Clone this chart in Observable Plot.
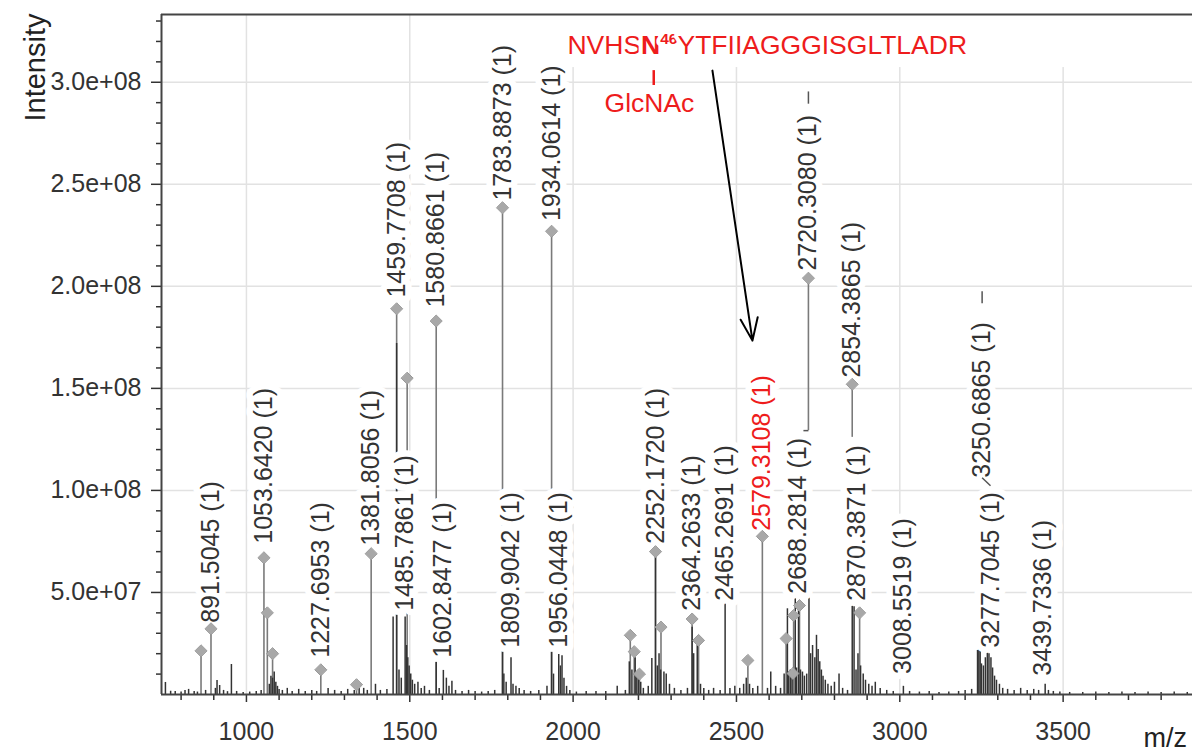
<!DOCTYPE html>
<html><head><meta charset="utf-8">
<script src="https://cdn.jsdelivr.net/npm/d3@7"></script>
<script src="https://cdn.jsdelivr.net/npm/@observablehq/plot@0.6"></script>
<style>
html,body{margin:0;padding:0;background:#fff;overflow:hidden}
#chart svg{display:block;paint-order:stroke}
</style></head><body><div id="chart"></div>
<script>
// ---- spectrum (unlabelled raw peaks) ----
const peakMz = [752,768,782,800,812,823,840,850,875,905,910,918,930,942,954,970,990,1010,1030,1045,
 1070,1075,1080,1085,1090,1095,1100,1110,1125,1140,1160,1180,1200,1215,1250,1270,1290,1310,1330,1345,1359,1370,1395,1410,1430,
 1449,1459.8,1467,1474,1485.8,1490,1494,1498,1503,1508,1515,1525,1535,1545,1560,1580.9,1590,1602.8,1612,1620,1629,1640,1660,1680,1700,1720,1740,1760,
 1783.9,1788,1795,1809.9,1816,1825,1835,1850,1870,1895,1920,1934.1,1940,1956,1961,1966,1972,1980,1990,2010,2040,2070,2100,2135,2160,
 2172,2180,2190,2195,2200,2207,2215,2230,2241,2252.2,2258,2263,2268,2278,2285,2295,2310,2330,2350,2364.3,2369,2380,2390,2400,2415,2430,2450,
 2465.3,2480,2495,2510,2522,2530,2540,2550,2565,2595,2605,2620,2635,2646,2656,2660,2665,2670,2680,2684,2690,2696,2702,2708,2715,
 2722,2727,2733,2740,2745,2750,2755,2760,2765,2772,2780,2790,2800,2814,2825,2840,2854.4,2860,2866,2872,2880,2888,2895,2905,2915,2925,2940,2960,2980,
 3011,3030,3060,3090,3120,3150,3180,3200,3220,3238,3242,3246,3250,3256,3262,3268,3273,3279,3284,3290,3296,3305,3315,3330,3350,3370,3390,3410,3425,
 3445,3455,3470,3490,3520,3560,3600,3640,3680,3720,3760,3800,3840,3880];
const peakIntensity = [5.9e6,1.6e6,1.5e6,1.2e6,2.0e6,2.5e6,1.5e6,1.2e6,2.0e6,3.0e6,6.9e6,4.4e6,2.0e6,1.4e6,1.47e7,1.5e6,1.0e6,1.2e6,1.5e6,2.0e6,
 5e6,9e6,8e6,1.1e7,6e6,4e6,2.5e6,2e6,3e6,1.5e6,2.5e6,1.5e6,2e6,1.5e6,3e6,2e6,1.5e6,2.5e6,2e6,3e6,3e6,2e6,5e6,2e6,2.5e6,
 3.8e7,1.72e8,1.2e7,8e6,3.8e7,2.4e7,1.8e7,1.4e7,1e7,7e6,5e6,6e6,3e6,4e6,2e6,1.58e7,3e6,1.18e7,8e6,4e6,6.5e6,2e6,1.5e6,2e6,1.5e6,1.2e6,1.5e6,2e6,
 2.2e7,1e7,6e6,1.8e7,5e6,4e6,3e6,2e6,1.5e6,2e6,4e6,2.4e7,1e7,1.96e7,1.4e7,1.9e7,8e6,4e6,2e6,1.2e6,1.5e6,1.5e6,1.5e6,4e6,2e6,
 1.6e7,1.2e7,1.8e7,9e6,1.2e7,6e6,3e6,4e6,1.77e7,7.0e7,1.4e7,2.0e7,1.2e7,1.1e7,1.0e7,5e6,3e6,2e6,3e6,3.3e7,2.0e7,2.4e7,5e6,3e6,2e6,3e6,2e6,
 4.45e7,3e6,4e6,3e6,5e6,8e6,5e6,3e6,4e6,3e6,1.1e7,4e6,3e6,1.0e7,4.2e7,1.1e7,1.2e7,1.0e7,4.7e7,1.3e7,4.5e7,1.2e7,1.1e7,9e6,1.0e7,
 4.8e7,2.0e7,2.4e7,1.8e7,2.9e7,2.2e7,1.6e7,1.2e7,9e6,7e6,5e6,4e6,6e6,1.0e7,3e6,2e6,4.45e7,4.3e7,1.2e7,2.0e7,1.4e7,1e7,7e6,5e6,4e6,6e6,3e6,2e6,1.5e6,
 4e6,1.5e6,1.2e6,1.5e6,1e6,1.2e6,1.5e6,2e6,2.5e6,2.16e7,2.2e7,2.2e7,1.5e7,1.4e7,1.8e7,2.1e7,2.0e7,1.8e7,1.3e7,9e6,7e6,5e6,3e6,2.5e6,2e6,3e6,2e6,2.5e6,2e6,
 5e6,2e6,1.5e6,1.2e6,1e6,1e6,1.2e6,1e6,1.2e6,1e6,1.2e6,1e6,1.2e6,1e6];

// ---- annotated peak markers (diamonds) ----
const markerMz = [861,891.5,1053.6,1064,1080,1227.7,1337,1381.8,1459.8,1492,1580.9,1783.9,1934.1,2175,2187,2203,2252.2,2269,2364.3,2384,2535,2579.3,2652,2673,2675,2693,2720.3,2854.4,2877];
const markerIntensity = [2.14e7,3.22e7,6.7e7,4.0e7,2.0e7,1.21e7,4.8e6,6.9e7,1.89e8,1.55e8,1.83e8,2.385e8,2.27e8,2.9e7,2.1e7,1.0e7,7.0e7,3.3e7,3.7e7,2.65e7,1.67e7,7.75e7,2.74e7,1.03e7,3.87e7,4.36e7,2.04e8,1.52e8,4.0e7];
const markerBase = [0,0,0,0,0,0,0,0,0,0,0,0,0,0,0,0,0,0,0,0,0,0,0,0,0,0,1.293e8,1.26e8,0];

// ---- peak labels ----
const labelText = ["891.5045 (1)","1053.6420 (1)","1227.6953 (1)","1381.8056 (1)","1459.7708 (1)","1485.7861 (1)","1580.8661 (1)","1602.8477 (1)",
 "1783.8873 (1)","1809.9042 (1)","1934.0614 (1)","1956.0448 (1)","2252.1720 (1)","2364.2633 (1)","2465.2691 (1)","2579.3108 (1)",
 "2688.2814 (1)","2720.3080 (1)","2854.3865 (1)","2870.3871 (1)","3008.5519 (1)","3250.6865 (1)","3277.7045 (1)","3439.7336 (1)"];
const labelMz = [891.5,1053.6,1227.7,1381.8,1459.8,1485.8,1580.9,1602.8,1783.9,1809.9,1934.1,1956.0,2252.2,2364.3,2465.3,2579.3,2688.3,2720.3,2854.4,2870.4,3008.6,3250.7,3277.7,3439.7];
const labelIntensity = [3.51e7,7.39e7,1.80e7,7.29e7,1.945e8,4.10e7,1.896e8,1.80e7,2.42e8,2.29e7,2.32e8,2.29e7,7.39e7,4.10e7,4.59e7,8.02e7,4.94e7,2.077e8,1.553e8,4.59e7,1.01e7,1.062e8,2.29e7,9.2e6];
const highlightedLabel = "2579.3108 (1)";

// ---- leader lines ----
const leaderMz1 = [2720.3,2720.3,3252,3277.7];
const leaderI1  = [1.293e8,2.895e8,1.917e8,1.023e8];
const leaderMz2 = [2705,2720.3,3252,3252];
const leaderI2  = [1.293e8,2.955e8,1.976e8,1.062e8];

// ---- glycopeptide annotation ----
const seqBefore = "NVHS", seqSite = "N", seqSiteNumber = "46", seqAfter = "YTFIIAGGGISGLTLADR";
const glycanText = "GlcNAc";
const seqMz = 1982.6, seqIntensity = 3.181e8;
const glycanMz = 2233.6, glycanIntensity = 2.897e8;
const bondMz = 2246.8, bondI1 = 2.984e8, bondI2 = 3.057e8;
const arrowFrom = [2426.5, 3.057e8], arrowTo = [2549, 1.734e8];
const annotationBoxMz = [1975, 3896], annotationBoxIntensity = [3.072e8, 3.332e8];

// ---- axes ----
const xDomain = [740, 3896];
const yDomain = [0, 3.332e8];
const xTicks = [1000,1500,2000,2500,3000,3500];
const yTicks = [5e7,1e8,1.5e8,2e8,2.5e8,3e8];
const yTickLabels = ["5.0e+07","1.0e+08","1.5e+08","2.0e+08","2.5e+08","3.0e+08"];
const xMinor = d3.range(800, 3900, 100).filter(v => v % 500 !== 0);
const yMinor = d3.range(1, 34).map(k => k * 1e7).filter(v => !yTicks.includes(v));

const spectrum = peakMz.map((mz, i) => ({mz, intensity: peakIntensity[i]}));
const markers = markerMz.map((mz, i) => ({mz, intensity: markerIntensity[i], base: markerBase[i]}));
const labels = labelText.map((text, i) => ({text, mz: labelMz[i], intensity: labelIntensity[i]}));
const leaders = leaderMz1.map((m, i) => ({x1: m, y1: leaderI1[i], x2: leaderMz2[i], y2: leaderI2[i]}));

const FONT = "'Liberation Sans', Arial, Helvetica, sans-serif";
const RED = "#ee1c1c";
const TXT = "#333";
const labelOpts = {x: "mz", y: "intensity", text: "text", rotate: -90, textAnchor: "start", fontSize: 25};

const chart = Plot.plot({
  width: 1192, height: 753,
  marginLeft: 161, marginRight: 0, marginTop: 14, marginBottom: 59,
  style: {fontFamily: FONT, background: "#fff"},
  x: {domain: xDomain, label: null},
  y: {domain: yDomain, label: null},
  marks: [
    Plot.gridX(xTicks, {stroke: "#e2e2e2", strokeOpacity: 1, strokeWidth: 1.5}),
    Plot.gridY(yTicks, {stroke: "#e2e2e2", strokeOpacity: 1, strokeWidth: 1.5}),
    Plot.rect([0], {x1: () => annotationBoxMz[0], x2: () => annotationBoxMz[1], y1: () => annotationBoxIntensity[0], y2: () => annotationBoxIntensity[1], fill: "white"}),
    Plot.ruleX(markers, {x: "mz", y1: "base", y2: "intensity", stroke: "#7a7a7a", strokeWidth: 1.6}),
    Plot.ruleX(spectrum, {x: "mz", y1: 0, y2: "intensity", stroke: "#333", strokeWidth: 1.5}),
    // white label backgrounds
    Plot.text(labels, {...labelOpts, fill: "white", stroke: "white", strokeWidth: 13}),
    Plot.dot(markers, {x: "mz", y: "intensity", symbol: "diamond2", r: 5.4, fill: "#a8a8a8", stroke: "#8c8c8c", strokeWidth: 1}),
    Plot.text(labels.filter(d => d.text !== highlightedLabel), {...labelOpts, fill: TXT}),
    Plot.text(labels.filter(d => d.text === highlightedLabel), {...labelOpts, fill: RED}),
    Plot.link(leaders, {x1: "x1", y1: "y1", x2: "x2", y2: "y2", stroke: "#555", strokeWidth: 1.5}),
    Plot.text([seqBefore + seqSite + seqSiteNumber + seqAfter], {x: () => seqMz, y: () => seqIntensity, text: d => d, textAnchor: "start",
      fontSize: 26.5, fill: RED, stroke: "white", strokeWidth: 8, className: "seq"}),
    Plot.text([glycanText], {x: () => glycanMz, y: () => glycanIntensity, text: d => d, textAnchor: "middle",
      fontSize: 26.5, fill: RED, stroke: "white", strokeWidth: 8}),
    Plot.ruleX([bondMz], {x: d => d, y1: bondI1, y2: bondI2, stroke: RED, strokeWidth: 2.5}),
    Plot.arrow([{x1: arrowFrom[0], y1: arrowFrom[1], x2: arrowTo[0], y2: arrowTo[1]}],
      {x1: "x1", y1: "y1", x2: "x2", y2: "y2", stroke: "#000", strokeWidth: 2, headLength: 18, headAngle: 42}),
    Plot.axisX(xTicks, {tickSize: 8, tickPadding: 20, fontSize: 25, tickFormat: d => String(d), color: TXT, strokeWidth: 1.5, label: null}),
    Plot.axisX(xMinor, {tickSize: 6, tickFormat: () => "", color: TXT, strokeWidth: 1.5, label: null}),
    Plot.axisY(yTicks, {tickSize: 10, tickPadding: 10, fontSize: 25, tickFormat: d => yTickLabels[yTicks.indexOf(d)], color: TXT, strokeWidth: 1.5, label: null}),
    Plot.axisY(yMinor, {tickSize: 5, tickFormat: () => "", color: TXT, strokeWidth: 1.5, label: null}),
    Plot.ruleY([yDomain[0]], {stroke: "#444", strokeWidth: 2}),
    Plot.ruleY([yDomain[1]], {stroke: "#444", strokeWidth: 2}),
    Plot.ruleX([xDomain[0]], {stroke: "#444", strokeWidth: 2}),
    Plot.text(["Intensity"], {frameAnchor: "top-left", text: d => d, rotate: -90, textAnchor: "end", dx: -137, dy: -1, fontSize: 29, fill: "#222"}),
    Plot.text(["m/z"], {frameAnchor: "bottom-right", text: d => d, textAnchor: "start", dx: -49, dy: 52, fontSize: 27, fill: "#222"})
  ]
});
document.getElementById("chart").appendChild(chart);

// rich text for the glycosylation site (bold N with superscript position)
const seqNode = d3.select(chart).select("g.seq text");
if (!seqNode.empty()) {
  seqNode.text(null);
  seqNode.append("tspan").text(seqBefore);
  seqNode.append("tspan").attr("font-weight", "bold").text(seqSite);
  seqNode.append("tspan").attr("font-weight", "bold").attr("font-size", 15.5).attr("dy", -10).text(seqSiteNumber);
  seqNode.append("tspan").attr("dy", 10).text(seqAfter);
}
</script></body></html>
